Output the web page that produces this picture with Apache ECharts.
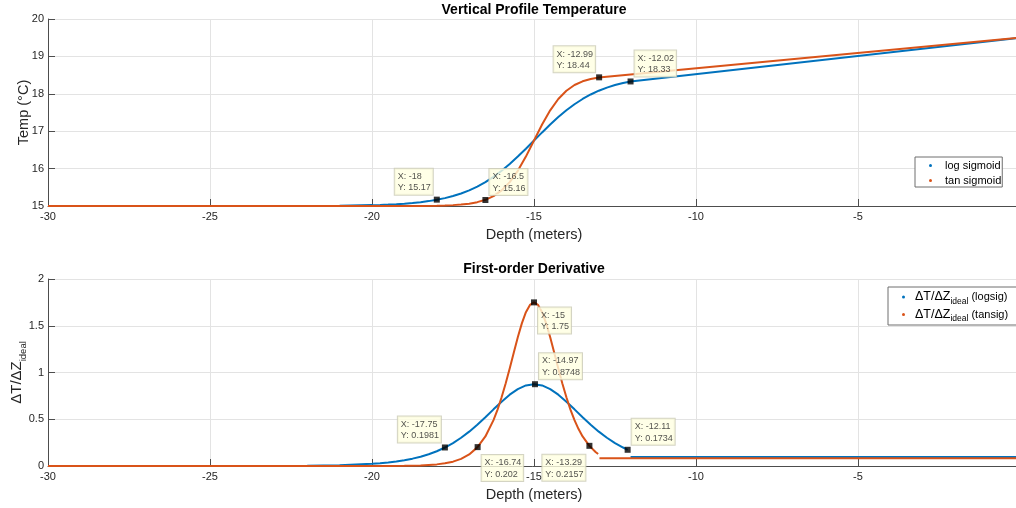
<!DOCTYPE html>
<html>
<head>
<meta charset="utf-8">
<script src="https://cdn.jsdelivr.net/npm/echarts@6/dist/echarts.min.js"></script>
<style>
  html, body { margin: 0; padding: 0; background: #ffffff; }
  #chart { width: 1016px; height: 508px; }
</style>
</head>
<body>
<div id="chart"></div>
<script>
// ---- Temperature profile (°C) versus depth (m) ----
const logDepth = [-30, -25, -22, -21,
  -20, -19.75, -19.5, -19.25, -19, -18.75, -18.5, -18.25, -18, -17.75, -17.5, -17.25,
  -17, -16.75, -16.5, -16.25, -16, -15.75, -15.5, -15.25, -15, -14.75, -14.5, -14.25,
  -14, -13.75, -13.5, -13.25, -13, -12.75, -12.5, -12.25, -12.02, 0];
const logTemp = [15.0000, 15.0002, 15.0032, 15.0087,
  15.0234, 15.0300, 15.0385, 15.0492, 15.0630, 15.0804, 15.1026, 15.1306, 15.1660, 15.2103, 15.2655, 15.3337,
  15.4172, 15.5182, 15.6385, 15.7795, 15.9413, 16.1229, 16.3214, 16.5324, 16.7500, 16.9676, 17.1786, 17.3771,
  17.5587, 17.7206, 17.8615, 17.9818, 18.0828, 18.1663, 18.2345, 18.2897, 18.3310, 19.5000];

const tanDepth = [-30, -25, -22, -21, -20, -19.5, -19, -18.5, -18,
  -17.75, -17.5, -17.25, -17, -16.75, -16.5, -16.25, -16, -15.75, -15.5, -15.25,
  -15, -14.75, -14.5, -14.25, -14, -13.75, -13.5, -13.25, -13, 0];
const tanTemp = [15.0000, 15.0000, 15.0000, 15.0000, 15.0002, 15.0004, 15.0012, 15.0032, 15.0087,
  15.0143, 15.0234, 15.0385, 15.0630, 15.1026, 15.1660, 15.2655, 15.4172, 15.6385, 15.9413, 16.3214,
  16.7500, 17.1786, 17.5587, 17.8615, 18.0828, 18.2345, 18.3340, 18.3974, 18.4370, 19.5000];

// ---- First-order derivative dT/dZ ----
const logSlopeDepth = [-30, -25, -22, -21,
  -20, -19.75, -19.5, -19.25, -19, -18.75, -18.5, -18.25, -18, -17.75, -17.5, -17.25,
  -17, -16.75, -16.5, -16.25, -16, -15.75, -15.5, -15.25, -15, -14.75, -14.5, -14.25,
  -14, -13.75, -13.5, -13.25, -13, -12.75, -12.5, -12.25, -12.11, -12.06, -12.02, 0];
const logSlope = [0.0000, 0.0002, 0.0032, 0.0086,
  0.0233, 0.0298, 0.0380, 0.0485, 0.0618, 0.0786, 0.0996, 0.1258, 0.1581, 0.1977, 0.2454, 0.3019,
  0.3675, 0.4415, 0.5220, 0.6059, 0.6882, 0.7626, 0.8225, 0.8615, 0.8750, 0.8615, 0.8225, 0.7626,
  0.6882, 0.6059, 0.5220, 0.4415, 0.3675, 0.3019, 0.2454, 0.1977, 0.1734, null, 0.0975, 0.0975];

const tanSlopeDepth = [-30, -25, -22, -21, -20, -19.5, -19, -18.5, -18,
  -17.75, -17.5, -17.25, -17, -16.75, -16.74, -16.5, -16.25, -16.125, -16, -15.875, -15.75,
  -15.625, -15.5, -15.375, -15.25, -15.125, -15, -14.875, -14.75, -14.625, -14.5, -14.375,
  -14.25, -14.125, -14, -13.875, -13.75, -13.625, -13.5, -13.29, -13.25,
  -13.1, -13.02, -13.0, -12.98, 0];
const tanSlope = [0.0000, 0.0000, 0.0000, 0.0000, 0.0003, 0.0009, 0.0023, 0.0064, 0.0173,
  0.0284, 0.0465, 0.0761, 0.1236, 0.1992, 0.2020, 0.3162, 0.4907, 0.6029, 0.7350, 0.8823, 1.0440,
  1.2114, 1.3763, 1.5253, 1.6450, 1.7229, 1.7500, 1.7229, 1.6450, 1.5253, 1.3763, 1.2114,
  1.0440, 0.8823, 0.7350, 0.6029, 0.4907, 0.3948, 0.3162, 0.2157, 0.1992,
  0.1498, 0.1283, null, 0.0818, 0.0818];

// ---- Data tips ----
const tempTipDepth = [-18, -16.5, -12.99, -12.02];
const tempTipValue = [15.17, 15.16, 18.44, 18.33];
const slopeTipDepth = [-17.75, -16.74, -15, -14.97, -13.29, -12.11];
const slopeTipValue = [0.1981, 0.202, 1.75, 0.8748, 0.2157, 0.1734];

// Where each tip box sits relative to its marker (u/d = above/below, l/r = left/right)
const tempTipSide = [['ul', 0], ['ur', 0], ['ul', 0], ['ur', 0]];
const slopeTipSide = [['ul', 0], ['dr', 8], ['dr', 5], ['ur', 0], ['dl', 9], ['ur', 0]];

// ---- Axis ticks ----
const depthMin = -30, depthMax = 0, depthStep = 5;
const tempMin = 15, tempMax = 20, tempStep = 1;
const slopeMin = 0, slopeMax = 2, slopeStep = 0.5;

const FONT = '"Liberation Sans", Arial, Helvetica, sans-serif';
const BLUE = '#0072BD';
const ORANGE = '#D95319';
const AXIS = '#4d4d4d';
const GRID = '#e3e3e3';

const pairs = (xs, ys) => xs.map((x, i) => [x, ys[i] === null ? '-' : ys[i]]);

// Tip box geometry
const MARK = 6;
const TIP_FONT_SIZE = 9;
const TIP_PAD = [2, 2, 1, 3];
const measureCtx = document.createElement('canvas').getContext('2d');
measureCtx.font = TIP_FONT_SIZE + 'px ' + FONT;
const tipText = (x, y) => 'X: ' + x + '\nY: ' + y;
function tipBoxWidth(text) {
  const w = Math.max.apply(null, text.split('\n').map(s => measureCtx.measureText(s).width));
  return w + TIP_PAD[1] + TIP_PAD[3];
}
function tipLabel(x, y, side, dy) {
  const h = MARK / 2;
  const left = side[1] === 'l';
  const up = side[0] === 'u';
  const bw = tipBoxWidth(tipText(x, y));
  return {
    position: [left ? h - 4 - bw : h + 4, up ? h - 5 : h + dy],
    align: 'left',
    verticalAlign: up ? 'bottom' : 'top'
  };
}
function tips(xs, ys, sides) {
  return xs.map((x, i) => ({
    value: [x, ys[i]],
    label: tipLabel(x, ys[i], sides[i][0], sides[i][1])
  }));
}

const tipStyle = {
  show: true,
  formatter: p => tipText(p.value[0], p.value[1]),
  fontFamily: FONT,
  fontSize: TIP_FONT_SIZE,
  lineHeight: 11.5,
  color: '#262626',
  backgroundColor: '#ffffe1',
  borderColor: '#c9c9b4',
  borderWidth: 1,
  padding: TIP_PAD
};

function xAxisCfg(gridIndex) {
  return {
    type: 'value', gridIndex: gridIndex,
    min: depthMin, max: depthMax, interval: depthStep,
    name: 'Depth (meters)', nameLocation: 'middle', nameGap: 21, nameMoveOverlap: false,
    nameTextStyle: { fontFamily: FONT, fontSize: 14.5, color: '#262626' },
    axisLine: { show: true, onZero: false, lineStyle: { color: AXIS, width: 1 } },
    axisTick: { show: true, inside: true, length: 7, lineStyle: { color: AXIS } },
    axisLabel: { fontFamily: FONT, fontSize: 11, color: '#262626', margin: 5, showMinLabel: true, showMaxLabel: false, hideOverlap: false },
    splitLine: { show: true, lineStyle: { color: GRID, width: 1 } }
  };
}
function yAxisCfg(gridIndex, min, max, step, name, nameGap, nameStyle) {
  return {
    type: 'value', gridIndex: gridIndex,
    min: min, max: max, interval: step,
    name: name, nameLocation: 'middle', nameGap: nameGap, nameRotate: 90, nameMoveOverlap: false,
    nameTextStyle: nameStyle,
    axisLine: { show: true, onZero: false, lineStyle: { color: AXIS, width: 1 } },
    axisTick: { show: true, inside: true, length: 7, lineStyle: { color: AXIS } },
    axisLabel: { fontFamily: FONT, fontSize: 11, color: '#262626', margin: 4, hideOverlap: false },
    splitLine: { show: true, lineStyle: { color: GRID, width: 1 } }
  };
}

const lineSeries = (name, color, xi, data) => ({
  name: name, type: 'line', xAxisIndex: xi, yAxisIndex: xi,
  data: data, showSymbol: false, symbol: 'none',
  smooth: false, connectNulls: false,
  lineStyle: { color: color, width: 2 }, itemStyle: { color: color },
  emphasis: { disabled: true }, z: 2
});

const tipSeries = (xi, data) => ({
  type: 'scatter', xAxisIndex: xi, yAxisIndex: xi,
  symbol: 'rect', symbolSize: MARK,
  itemStyle: { color: '#000000' },
  label: tipStyle, labelLayout: { hideOverlap: false }, data: data, z: 10,
  emphasis: { disabled: true }
});

const SLOPE_LOG = 'slope-logsig';
const SLOPE_TAN = 'slope-tansig';
const slopeLegendText = { [SLOPE_LOG]: ' (logsig)', [SLOPE_TAN]: ' (tansig)' };

const chart = echarts.init(document.getElementById('chart'), null, { renderer: 'canvas' });
chart.setOption({
  animation: false,
  backgroundColor: '#ffffff',
  title: [
    { text: 'Vertical Profile Temperature', left: 534, top: 3.5, textAlign: 'center', padding: 0,
      textStyle: { fontFamily: FONT, fontSize: 14, fontWeight: 'bold', color: '#000000' } },
    { text: 'First-order Derivative', left: 534, top: 262, textAlign: 'center', padding: 0,
      textStyle: { fontFamily: FONT, fontSize: 14, fontWeight: 'bold', color: '#000000' } }
  ],
  grid: [
    { left: 48, top: 19, width: 972, height: 187, containLabel: false, outerBoundsMode: 'none' },
    { left: 48, top: 279, width: 972, height: 187, containLabel: false, outerBoundsMode: 'none' }
  ],
  xAxis: [xAxisCfg(0), xAxisCfg(1)],
  yAxis: [
    yAxisCfg(0, tempMin, tempMax, tempStep, 'Temp (°C)', 17,
      { fontFamily: FONT, fontSize: 14.5, color: '#262626' }),
    yAxisCfg(1, slopeMin, slopeMax, slopeStep, '{m|ΔT/ΔZ}{s|ideal}', 20,
      { fontFamily: FONT, color: '#262626',
        rich: {
          m: { fontFamily: FONT, fontSize: 15, color: '#262626', lineHeight: 22, verticalAlign: 'middle' },
          s: { fontFamily: FONT, fontSize: 9.5, color: '#262626', lineHeight: 10, verticalAlign: 'bottom' }
        } })
  ],
  legend: [
    {
      data: ['log sigmoid', 'tan sigmoid'],
      orient: 'vertical', left: 915, top: 157,
      icon: 'circle', itemWidth: 3, itemHeight: 3, itemGap: 2,
      padding: [2, 1, 0, 14],
      borderColor: '#6e6e6e', borderWidth: 1, backgroundColor: '#ffffff',
      selectedMode: false,
      textStyle: { fontFamily: FONT, fontSize: 11, color: '#000000', lineHeight: 13, padding: [0, 0, 0, 8] }
    },
    {
      data: [SLOPE_LOG, SLOPE_TAN],
      orient: 'vertical', left: 888, top: 287,
      icon: 'circle', itemWidth: 3, itemHeight: 3, itemGap: 2,
      padding: [3.5, 10, 1.5, 14],
      borderColor: '#6e6e6e', borderWidth: 1, backgroundColor: '#ffffff',
      selectedMode: false,
      formatter: name => '{m|ΔT/ΔZ}{s|ideal}{p|' + slopeLegendText[name] + '}',
      textStyle: {
        fontFamily: FONT, color: '#000000', padding: [0, 0, 0, 5],
        rich: {
          m: { fontFamily: FONT, fontSize: 12.5, color: '#000000', lineHeight: 18, verticalAlign: 'middle' },
          s: { fontFamily: FONT, fontSize: 8.5, color: '#000000', lineHeight: 9, verticalAlign: 'bottom' },
          p: { fontFamily: FONT, fontSize: 11, color: '#000000', lineHeight: 18, verticalAlign: 'middle' }
        }
      }
    }
  ],
  series: [
    lineSeries('log sigmoid', BLUE, 0, pairs(logDepth, logTemp)),
    lineSeries('tan sigmoid', ORANGE, 0, pairs(tanDepth, tanTemp)),
    lineSeries(SLOPE_LOG, BLUE, 1, pairs(logSlopeDepth, logSlope)),
    lineSeries(SLOPE_TAN, ORANGE, 1, pairs(tanSlopeDepth, tanSlope)),
    tipSeries(0, tips(tempTipDepth, tempTipValue, tempTipSide)),
    tipSeries(1, tips(slopeTipDepth, slopeTipValue, slopeTipSide))
  ]
});
</script>
</body>
</html>
